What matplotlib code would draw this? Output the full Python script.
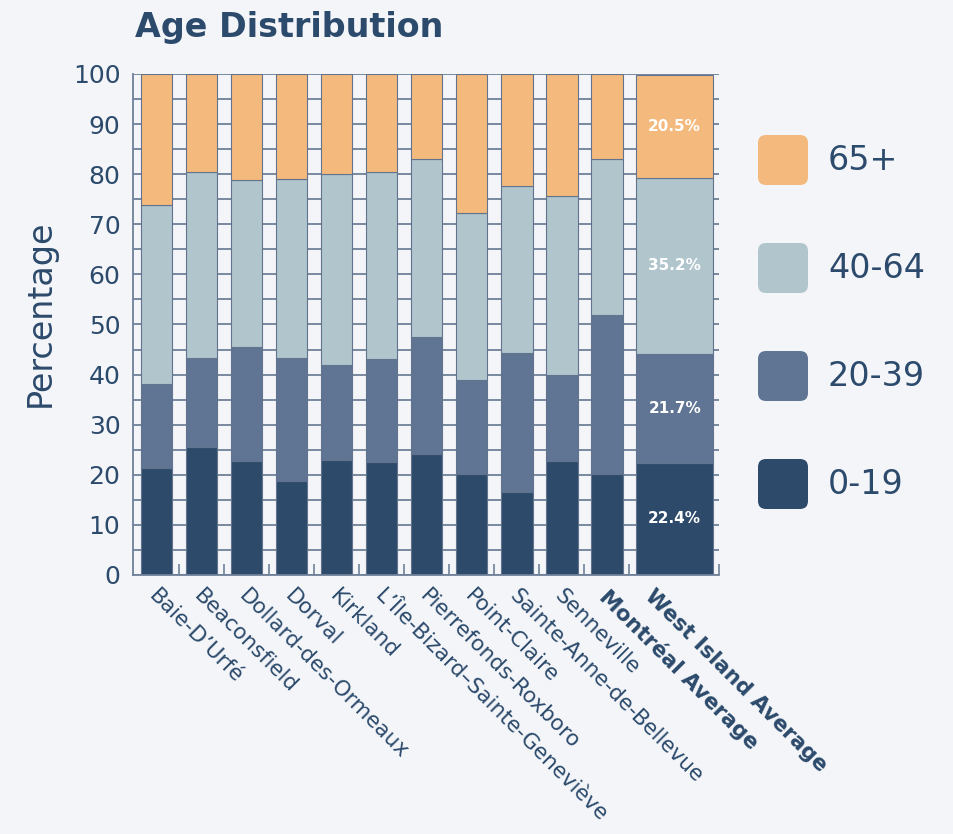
import numpy as np
import matplotlib
matplotlib.use("Agg")
import matplotlib.pyplot as plt
from matplotlib.patches import FancyBboxPatch

# ---- data -------------------------------------------------------------
categories = [
    "Baie-D’Urfé", "Beaconsfield", "Dollard-des-Ormeaux", "Dorval",
    "Kirkland", "L’Île-Bizard–Sainte-Geneviève", "Pierrefonds-Roxboro",
    "Point-Claire", "Sainte-Anne-de-Bellevue", "Senneville",
    "Montréal Average", "West Island Average",
]
age_groups = ["0-19", "20-39", "40-64", "65+"]
age_0_19 = [21.4, 25.5, 22.7, 18.8, 22.9, 22.5, 24.2, 20.2, 16.6, 22.7, 20.1, 22.4]
age_20_39 = [16.7, 17.9, 22.8, 24.5, 19.0, 20.6, 23.3, 18.8, 27.8, 17.2, 31.7, 21.7]
age_40_64 = [35.7, 37.0, 33.3, 35.7, 38.2, 37.4, 35.5, 33.2, 33.2, 35.8, 31.3, 35.2]
age_65_plus = [26.2, 19.6, 21.2, 21.0, 19.9, 19.5, 17.0, 27.8, 22.4, 24.3, 16.9, 20.5]
y_ticks = [0, 10, 20, 30, 40, 50, 60, 70, 80, 90, 100]

# ---- style ------------------------------------------------------------
BG = "#f3f5f9"
INK = "#2c4a6b"
GRID = "#6f8199"
EDGE = "#62748d"
colors = ["#2d4a6b", "#5f7593", "#b1c5cd", "#f4b97d"]
plt.rcParams["font.family"] = ["DejaVu Sans"]

fig = plt.figure(figsize=(9.54, 8.34), dpi=100, facecolor=BG)
W, H = 954, 834
ax = fig.add_axes([133 / W, 259 / H, 586 / W, 501 / H], facecolor=BG)

n = len(categories)
gap = 0.3
widths = np.full(n, 0.7)
widths[-1] = 1.71          # the West Island summary bar is drawn wider
left = np.zeros(n)
for i in range(1, n):
    left[i] = left[i - 1] + widths[i - 1] + gap
centers = left + widths / 2

series = [age_0_19, age_20_39, age_40_64, age_65_plus]
bottom = np.zeros(n)
for vals, col in zip(series, colors):
    vals = np.asarray(vals, dtype=float)
    ax.bar(left, vals, width=widths, bottom=bottom, align="edge",
           color=col, edgecolor=EDGE, linewidth=0.8, zorder=2)
    # percentages written on the summary bar
    ax.text(centers[-1], bottom[-1] + vals[-1] / 2, f"{vals[-1]:.1f}%",
            ha="center", va="center", color="white", fontsize=11,
            fontweight="bold", zorder=3)
    bottom += vals

x_lo = left[0] - gap / 2 - 0.02
x_hi = left[-1] + widths[-1] + gap / 2 - 0.02
ax.set_xlim(x_lo, x_hi)
ax.set_ylim(0, 100)

# y axis: labels every 10, grid every 5
ax.set_yticks(y_ticks)
ax.set_yticks(np.arange(0, 101, 5), minor=True)
ax.grid(True, axis="y", which="both", color=GRID, linewidth=1.3, zorder=0)
ax.set_axisbelow(True)
ax.tick_params(axis="y", which="both", length=0, pad=9, labelsize=18,
               labelcolor=INK)

# x axis: small ticks between the bars, rotated labels
ax.set_xticks(list(left[1:] - gap / 2) + [x_hi], minor=True)
ax.tick_params(axis="x", which="minor", direction="in", length=8,
               width=1.2, color=GRID)
ax.set_xticks(left + 0.42)
ax.set_xticklabels(categories)
ax.tick_params(axis="x", which="major", length=0, pad=8, labelsize=15.5,
               labelcolor=INK)
for i, lab in enumerate(ax.get_xticklabels()):
    lab.set_rotation(-45)
    lab.set_ha("left")
    lab.set_va("top")
    lab.set_rotation_mode("anchor")
    if i >= n - 2:
        lab.set_fontweight("bold")

for side in ("top", "right"):
    ax.spines[side].set_visible(False)
for side in ("left", "bottom"):
    ax.spines[side].set_color(GRID)
    ax.spines[side].set_linewidth(1.3)

# titles
fig.text(135 / W, 1 - 27 / H, "Age Distribution", ha="left", va="center",
         fontsize=24, fontweight="bold", color=INK)
fig.text(40 / W, 1 - 313 / H, "Percentage", rotation=90, ha="center",
         va="center", fontsize=24, color=INK)

# legend with rounded swatches, oldest group on top
lax = fig.add_axes([0, 0, 1, 1], facecolor="none")
lax.set_xlim(0, W)
lax.set_ylim(H, 0)
lax.axis("off")
for k, (name, col) in enumerate(zip(age_groups[::-1], colors[::-1])):
    yc = 160 + k * 108
    lax.add_patch(FancyBboxPatch((758, yc - 25), 50, 50,
                                 boxstyle="round,pad=0,rounding_size=8",
                                 facecolor=col, edgecolor="none"))
    lax.text(828, yc, name, ha="left", va="center", fontsize=24, color=INK)

fig.savefig("out.png", dpi=100, facecolor=BG)
